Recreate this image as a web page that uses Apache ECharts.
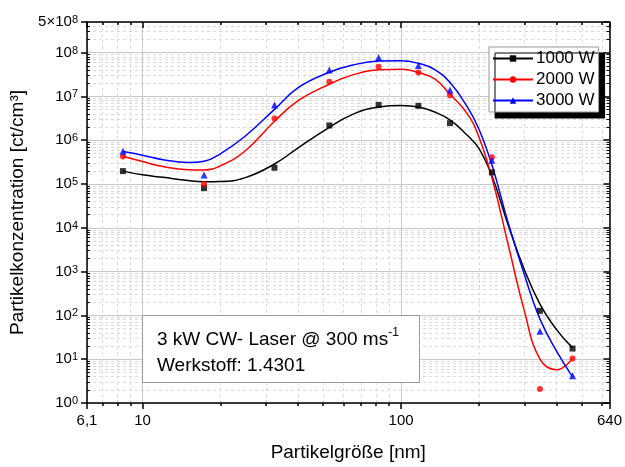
<!DOCTYPE html>
<html>
<head>
<meta charset="utf-8">
<script src="https://cdn.jsdelivr.net/npm/echarts@6/dist/echarts.min.js"></script>
<style>
html,body{margin:0;padding:0;background:#fff;}
#chart{width:625px;height:467px;}
</style>
</head>
<body>
<div id="chart"></div>
<script>
// measured data points
const sizes = [8.4, 17.3, 32.4, 52.8, 81.9, 116.7, 154.6, 224.5, 344.5, 460.6];
const w1000 = [1.97e5, 8.05e4, 2.35e5, 2.17e6, 6.4e6, 6.1e6, 2.45e6, 1.84e5, 127, 17.5];
const w2000 = [4.27e5, 1.0e5, 3.12e6, 2.15e7, 4.75e7, 3.5e7, 1.06e7, 4.06e5, 2.1, 10.4];
const w3000 = [5.6e5, 1.6e5, 6.4e6, 4.0e7, 7.7e7, 5.1e7, 1.4e7, 3.5e5, 43.7, 4.2];

// fitted curves
const fitSizes = [8.4, 10, 12, 15, 17.3, 20, 25, 32.4, 40, 52.8, 65, 82, 100, 117, 135, 155, 180, 200, 225, 260, 300, 345, 400, 460];
const fit1000 = [1.97e5, 1.62e5, 1.42e5, 1.2e5, 1.13e5, 1.14e5, 1.4e5, 2.86e5, 6.7e5, 1.96e6, 3.9e6, 5.75e6, 6.2e6, 5.7e6, 4.4e6, 2.86e6, 1.31e6, 6.5e5, 1.5e5, 1.13e4, 1.1e3, 179, 46.7, 18.4];
const fit2000 = [4.3e5, 3.25e5, 2.5e5, 2.12e5, 2.1e5, 2.6e5, 5.75e5, 2.7e6, 8e6, 1.9e7, 3.1e7, 4.05e7, 4.15e7, 3.5e7, 2.5e7, 1.1e7, 4.1e6, 1.19e6, 1.35e5, 4e3, 125, 9.9, 5.75, 10.3];
const fit3000 = [5.5e5, 4.55e5, 3.6e5, 3.1e5, 3.3e5, 4.9e5, 1.25e6, 5.05e6, 1.58e7, 3.55e7, 5.2e7, 6.4e7, 6.5e7, 5.66e7, 4.1e7, 2.04e7, 5.9e6, 1.8e6, 2.64e5, 1.25e4, 848, 81, 15, 4.0];

const seriesNames = ['1000 W', '2000 W', '3000 W'];
const colors = ['#000000', '#ff0000', '#0000ff'];
const symbols = ['rect', 'circle', 'triangle'];

// axis ranges and tick values
const xMin = 6.1, xMax = 640;
const yMin = 1, yMax = 5e8;
const xMinorTicks = [7, 8, 9, 20, 30, 40, 50, 60, 70, 80, 90, 200, 300, 400, 500, 600];
const yMinorTicks = [];
for (let e = 0; e <= 8; e++) for (let m = 2; m <= 9; m++) { const v = m * Math.pow(10, e); if (v < yMax) yMinorTicks.push(v); }

const xTitle = 'Partikelgröße [nm]';
const yTitle = 'Partikelkonzentration [ct/cm³]';
const noteLine1 = '3 kW CW- Laser @ 300 ms{s|-1}';
const noteLine2 = 'Werkstoff: 1.4301';

const FONT = 'Liberation Sans, Arial, sans-serif';

function xFmt(v) { return String(+(+v).toPrecision(3)).replace('.', ','); }
function yFmt(v) {
  const l = Math.log10(v);
  const n = Math.round(l);
  if (Math.abs(l - n) < 1e-6) return '10{s|' + n + '}';
  const e = Math.floor(l + 1e-9);
  const m = Math.round(v / Math.pow(10, e));
  return m + '×10{s|' + e + '}';
}

const chart = echarts.init(document.getElementById('chart'), null, {renderer: 'canvas'});

const gridLineMajor = {show: true, lineStyle: {color: '#c8c8c8', width: 1, type: 'solid'}};
const gridLineMinor = {show: true, lineStyle: {color: '#dadada', width: 1, type: [3, 3]}};
const axisLineBlack = {show: true, lineStyle: {color: '#000', width: 1.5}};

function xAxisDef(pos, opts) {
  return Object.assign({
    type: 'log', logBase: 10, min: xMin, max: xMax, position: pos,
    axisLine: {show: false}, axisLabel: {show: false}, axisTick: {show: false},
    splitLine: {show: false}, minorTick: {show: false}, minorSplitLine: {show: false}
  }, opts);
}
function yAxisDef(pos, opts) {
  return Object.assign({
    type: 'log', logBase: 10, min: yMin, max: yMax, position: pos,
    axisLine: {show: false}, axisLabel: {show: false}, axisTick: {show: false},
    splitLine: {show: false}, minorTick: {show: false}, minorSplitLine: {show: false}
  }, opts);
}

const series = [];
seriesNames.forEach((name, i) => {
  const fit = [fit1000, fit2000, fit3000][i];
  series.push({
    name: name, type: 'line', xAxisIndex: 0, yAxisIndex: 0,
    data: fitSizes.map((x, k) => [x, fit[k]]),
    smooth: 0.45, showSymbol: false, symbol: symbols[i], symbolSize: 6,
    lineStyle: {color: colors[i], width: 1.5}, itemStyle: {color: colors[i]},
    z: 3, silent: true
  });
});
seriesNames.forEach((name, i) => {
  const vals = [w1000, w2000, w3000][i];
  series.push({
    name: name + ' Messwerte', type: 'scatter', xAxisIndex: 0, yAxisIndex: 0,
    data: sizes.map((x, k) => [x, vals[k]]),
    symbol: symbols[i], symbolSize: i === 2 ? 7 : 6,
    itemStyle: {color: colors[i]}, z: 4, silent: true
  });
});

const option = {
  animation: false,
  backgroundColor: '#fff',
  textStyle: {fontFamily: FONT},
  grid: {left: 87, right: 13, top: 22, bottom: 59, containLabel: false},
  xAxis: [
    xAxisDef('bottom', {
      axisLine: axisLineBlack,
      axisTick: {show: true, inside: false, length: 6, lineStyle: {color: '#000', width: 1.5}},
      axisLabel: {show: true, formatter: xFmt, color: '#000', fontSize: 15, fontFamily: FONT, margin: 10},
      splitLine: gridLineMajor,
      name: xTitle, nameLocation: 'middle', nameGap: 40,
      nameTextStyle: {fontSize: 19, color: '#000', fontFamily: FONT}
    }),
    xAxisDef('bottom', {
      axisTick: {show: true, inside: false, length: 3, customValues: xMinorTicks, lineStyle: {color: '#000', width: 1.5}},
      splitLine: gridLineMinor
    }),
    xAxisDef('top', {
      axisLine: axisLineBlack,
      axisTick: {show: true, inside: true, length: 6, lineStyle: {color: '#000', width: 1.5}}
    }),
    xAxisDef('top', {
      axisTick: {show: true, inside: true, length: 3, customValues: xMinorTicks, lineStyle: {color: '#000', width: 1.5}}
    })
  ],
  yAxis: [
    yAxisDef('left', {
      axisLine: axisLineBlack,
      axisTick: {show: true, inside: false, length: 6, lineStyle: {color: '#000', width: 1.5}},
      axisLabel: {show: true, formatter: yFmt, color: '#000', fontSize: 15, fontFamily: FONT, margin: 9,
        rich: {s: {fontSize: 11, verticalAlign: 'top', lineHeight: 11, fontFamily: FONT, color: '#000'}}},
      splitLine: gridLineMajor,
      name: yTitle, nameLocation: 'middle', nameGap: 54, nameRotate: 90,
      nameTextStyle: {fontSize: 19, color: '#000', fontFamily: FONT}
    }),
    yAxisDef('left', {
      axisTick: {show: true, inside: true, length: 3, customValues: yMinorTicks, lineStyle: {color: '#000', width: 1}},
      splitLine: gridLineMinor
    }),
    yAxisDef('right', {
      axisLine: axisLineBlack,
      axisTick: {show: true, inside: true, length: 6, lineStyle: {color: '#000', width: 1.5}}
    }),
    yAxisDef('right', {
      axisTick: {show: true, inside: true, length: 3, customValues: yMinorTicks, lineStyle: {color: '#000', width: 1}}
    })
  ],
  legend: {
    data: seriesNames,
    orient: 'vertical', left: 489, top: 47,
    itemWidth: 40, itemHeight: 8, itemGap: 4,
    padding: [3, 4, 3, 3],
    backgroundColor: '#fff', borderColor: '#999', borderWidth: 1, borderRadius: 0,
    shadowColor: '#000', shadowBlur: 0, shadowOffsetX: 6, shadowOffsetY: 6,
    textStyle: {fontSize: 17, color: '#000', fontFamily: FONT, padding: [0, 0, 0, -2]},
    selectedMode: false
  },
  graphic: [
    {type: 'rect', shape: {x: 142.5, y: 315.5, width: 277, height: 67}, style: {fill: '#fff', stroke: '#999', lineWidth: 1}, z: 100},
    {type: 'text', x: 157, y: 327, z: 101, style: {
      text: noteLine1 + '\n' + noteLine2, fontSize: 19, fontFamily: FONT, fill: '#000', lineHeight: 26,
      rich: {s: {fontSize: 12, verticalAlign: 'top', lineHeight: 12, fontFamily: FONT, fill: '#000'}}
    }}
  ],
  series: series
};
chart.setOption(option);
</script>
</body>
</html>
